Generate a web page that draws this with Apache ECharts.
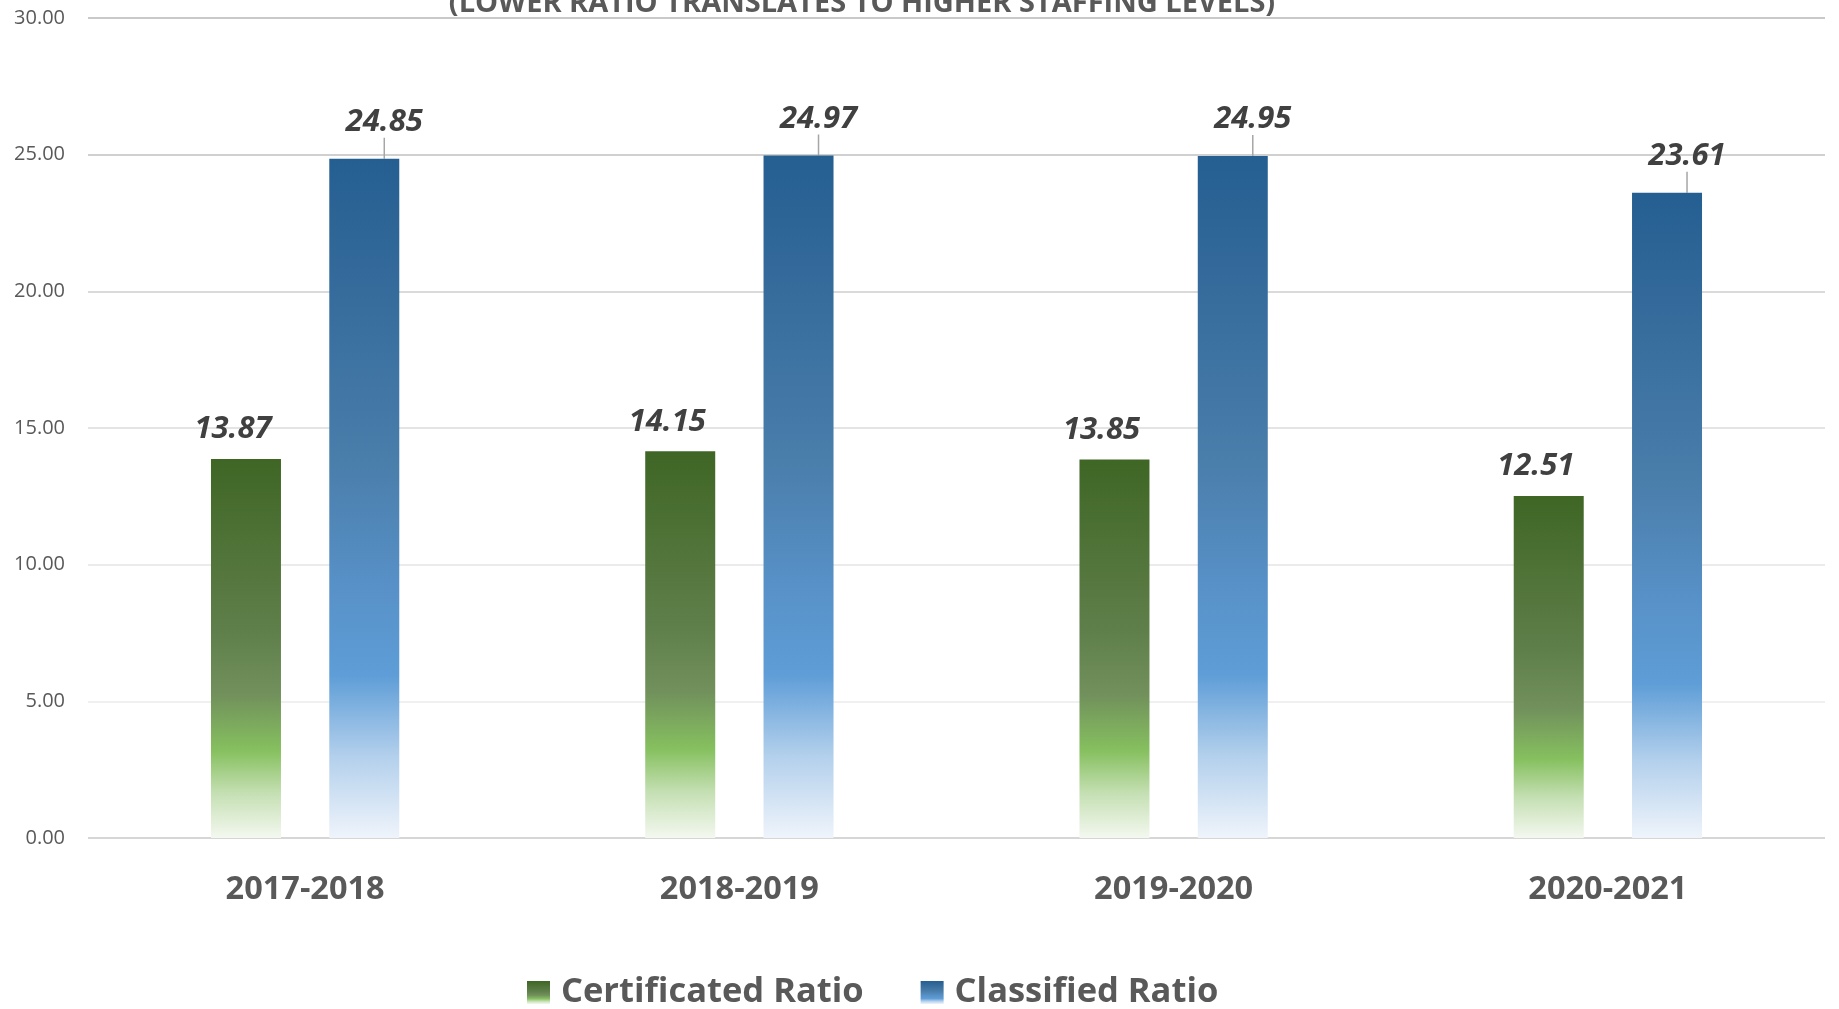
<html>
<head>
<meta http-equiv="Content-Type" content="text/html; charset=UTF-8">
<script type="text/javascript" src="https://cdn.jsdelivr.net/npm/echarts@6.0.0/dist/echarts.min.js"></script>
<style>
html, body { margin: 0; padding: 0; background: #fff; }
</style>
</head>
<body>
<div id="chart" style="width:1839px;height:1009px;"></div>
<script type="text/javascript">
// school years on the x axis
var years = ["2017-2018", "2018-2019", "2019-2020", "2020-2021"];
// students per staff member
var certificated = [13.87, 14.15, 13.85, 12.51];
var classified = [24.85, 24.97, 24.95, 23.61];
var yTicks = [0, 5, 10, 15, 20, 25, 30];

var greenFill = new echarts.graphic.LinearGradient(0, 0, 0, 1, [
  { offset: 0, color: "#3f6625" },
  { offset: 0.45, color: "#5f7f4a" },
  { offset: 0.62, color: "#71905c" },
  { offset: 0.77, color: "#86c05f" },
  { offset: 0.88, color: "#c4dfb2" },
  { offset: 1, color: "#f4f8f0" }
]);
var blueFill = new echarts.graphic.LinearGradient(0, 0, 0, 1, [
  { offset: 0, color: "#255e91" },
  { offset: 0.45, color: "#4a7eab" },
  { offset: 0.62, color: "#5790c6" },
  { offset: 0.76, color: "#5e9dd7" },
  { offset: 0.88, color: "#b3d0ec" },
  { offset: 1, color: "#eff4fb" }
]);

var myChart = echarts.init(document.getElementById("chart"));
myChart.setOption({
  animation: false,
  textStyle: { fontFamily: "'Open Sans', sans-serif" },
  title: {
    text: "(LOWER RATIO TRANSLATES TO HIGHER STAFFING LEVELS)",
    left: 857,
    top: -16,
    textAlign: "center",
    textStyle: {
      fontSize: 29,
      fontWeight: "bold",
      color: "#595959",
      fontFamily: "'Open Sans', sans-serif"
    }
  },
  legend: {
    left: 522,
    top: 970,
    itemWidth: 23,
    itemHeight: 23,
    itemGap: 57,
    icon: "rect",
    textStyle: {
      fontSize: 34.5,
      fontWeight: "bold",
      color: "#595959",
      padding: [0, 0, 0, 6]
    },
    data: ["Certificated Ratio", "Classified Ratio"]
  },
  grid: {
    left: 88,
    right: 14,
    top: 18,
    bottom: 171,
    containLabel: false
  },
  xAxis: {
    type: "category",
    data: years,
    axisLine: { show: false },
    axisTick: { show: false },
    axisLabel: {
      margin: 35,
      fontSize: 32.5,
      fontWeight: "bold",
      color: "#595959"
    }
  },
  yAxis: {
    type: "value",
    min: yTicks[0],
    max: yTicks[yTicks.length - 1],
    interval: yTicks[1] - yTicks[0],
    axisLine: { show: false },
    axisTick: { show: false },
    axisLabel: {
      margin: 23,
      fontSize: 20,
      color: "#595959",
      formatter: function (v) { return v.toFixed(2); }
    },
    splitLine: {
      lineStyle: {
        width: 2,
        color: ["#d6d6d6", "#f0f0f0", "#ebebeb", "#e4e4e4", "#dadada", "#d0d0d0", "#c9c9c9"]
      }
    }
  },
  series: [
    {
      name: "Certificated Ratio",
      type: "bar",
      data: certificated,
      barWidth: 70,
      barGap: "69%",
      itemStyle: { color: greenFill },
      label: {
        show: true,
        position: "top",
        distance: 14,
        offset: [-13, 0],
        fontSize: 31,
        fontWeight: "bold",
        fontStyle: "italic",
        color: "#404040",
        formatter: function (p) { return p.value.toFixed(2); }
      }
    },
    {
      name: "Classified Ratio",
      type: "bar",
      data: classified,
      barWidth: 70,
      itemStyle: { color: blueFill },
      label: {
        show: true,
        position: "top",
        distance: 5,
        fontSize: 31,
        fontWeight: "bold",
        fontStyle: "italic",
        color: "#404040",
        formatter: function (p) { return p.value.toFixed(2); }
      },
      labelLayout: { dx: 20, dy: -16 },
      labelLine: {
        show: true,
        lineStyle: { color: "#a6a6a6", width: 1.5 }
      }
    }
  ]
});
</script>
</body>
</html>
